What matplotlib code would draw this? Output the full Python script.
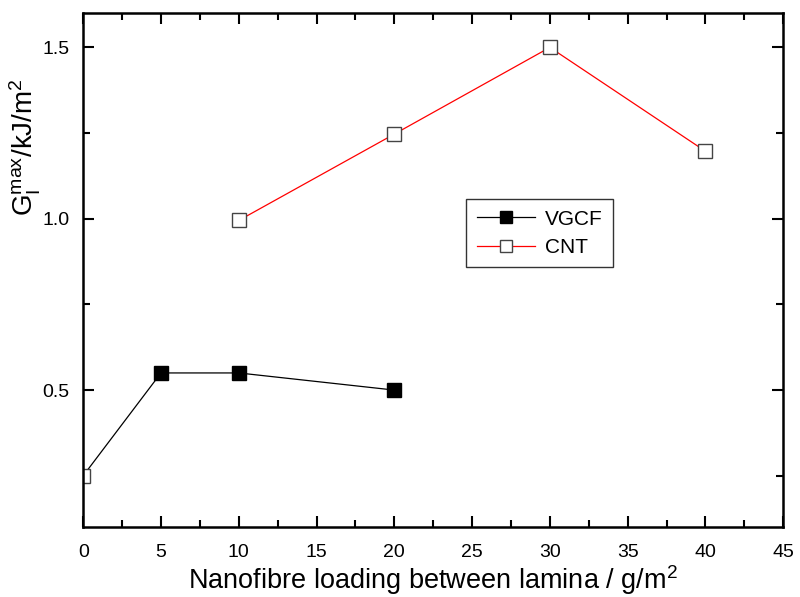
import numpy as np
import matplotlib.pyplot as plt
from matplotlib.ticker import MultipleLocator

plt.rcParams['font.family'] = ['Liberation Sans', 'DejaVu Sans']
plt.rcParams['mathtext.fontset'] = 'custom'
plt.rcParams['mathtext.rm'] = 'Liberation Sans'
plt.rcParams['mathtext.it'] = 'Liberation Sans'

vgcf_x = [0, 5, 10, 20]
vgcf_y = [0.25, 0.55, 0.55, 0.50]
cnt_x = [10, 20, 30, 40]
cnt_y = [0.995, 1.247, 1.50, 1.197]

fig = plt.figure(figsize=(8, 5.97), dpi=100)
ax = fig.add_axes([0.104, 0.117, 0.875, 0.861])

# VGCF line; the unloaded reference point gets an open marker
ax.plot(vgcf_x, vgcf_y, color='black', lw=0.9, marker='s', ms=9.5,
        mfc='black', mec='black', markevery=[1, 2, 3], label='VGCF')
ax.plot(vgcf_x[:1], vgcf_y[:1], ls='none', marker='s', ms=9.5,
        mfc='white', mec='#444444', mew=1.0)

ax.plot(cnt_x, cnt_y, color='red', lw=0.9, marker='s', ms=9.5,
        mfc='white', mec='#444444', mew=1.0, label='CNT')

ax.set_xlim(0, 45)
ax.set_ylim(0.1, 1.6)
ax.xaxis.set_major_locator(MultipleLocator(5))
ax.xaxis.set_minor_locator(MultipleLocator(2.5))
ax.yaxis.set_major_locator(MultipleLocator(0.5))
ax.yaxis.set_minor_locator(MultipleLocator(0.25))
ax.set_yticks([0.5, 1.0, 1.5])
ax.set_yticklabels(['0.5', '1.0', '1.5'])

ax.tick_params(which='both', direction='in', top=True, right=True,
               width=1.5, labelsize=14)
ax.tick_params(which='major', length=8)
ax.tick_params(which='minor', length=5)
ax.tick_params(axis='x', which='major', pad=12)
ax.tick_params(axis='y', which='major', pad=10)
for s in ax.spines.values():
    s.set_linewidth(1.8)

ax.set_xlabel(r'Nanofibre loading between lamina / g/m$^\mathregular{2}$',
              fontsize=19.5, labelpad=2)
ax.set_ylabel(r'G$_\mathregular{I}^\mathregular{max}$/kJ/m$^\mathregular{2}$',
              fontsize=20)
ax.yaxis.set_label_coords(-0.058, 0.74)

leg = ax.legend(loc='upper left', bbox_to_anchor=(0.547, 0.638), numpoints=1,
                fontsize=15, fancybox=False, framealpha=1, handlelength=2.8,
                borderpad=0.5, labelspacing=0.45, handletextpad=0.5,
                borderaxespad=0, markerscale=0.85)
leg.get_frame().set_edgecolor('#333333')
leg.get_frame().set_linewidth(1.0)

fig.savefig('out.png', dpi=100)
